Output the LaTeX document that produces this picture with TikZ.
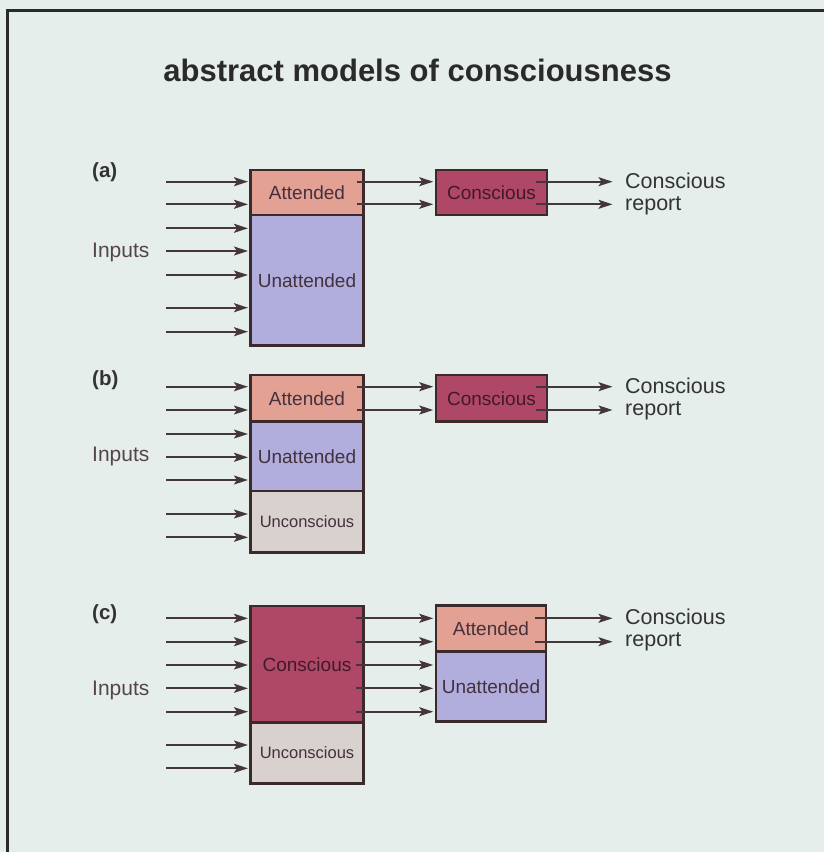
\documentclass[tikz,border=0pt]{standalone}
\usepackage{fontspec}
\setmainfont{Liberation Sans}
\usetikzlibrary{arrows.meta,calc}
\definecolor{bg}{HTML}{E6EEEC}
\definecolor{attc}{HTML}{E2A192}
\definecolor{unattc}{HTML}{B1AEDD}
\definecolor{consc}{HTML}{AF4867}
\definecolor{uncc}{HTML}{D9D1CD}
\definecolor{edgec}{HTML}{3A2A2C}
\definecolor{arrc}{HTML}{45363A}
\definecolor{boxtxt}{HTML}{44303E}
\definecolor{contxt}{HTML}{42192A}
\definecolor{lbltxt}{HTML}{54444C}
\definecolor{txt}{HTML}{333333}
\definecolor{framec}{HTML}{2A2A2A}
\begin{document}
\begin{tikzpicture}[x=1pt,y=-1pt,
  part/.style={draw=edgec, line width=2.5pt, minimum width=112.6pt, inner sep=0pt,
    text=boxtxt, font=\fontsize{19}{21}\selectfont},
  rpart/.style={part, minimum width=111pt},
  arr/.style={draw=arrc, line width=1.8pt, shorten >=1.5pt,
    -{Stealth[length=14pt,width=9pt,inset=3pt]}},
  lbl/.style={anchor=base west, inner sep=0pt, text=txt, font=\fontsize{21.5}{24}\selectfont},
  inlbl/.style={anchor=base west, inner sep=0pt, text=lbltxt, font=\fontsize{21}{24}\selectfont},
  tag/.style={anchor=base west, inner sep=0pt, text=txt, font=\bfseries\fontsize{20.5}{24}\selectfont}]
\useasboundingbox (0,0) rectangle (824,852);
\fill[bg] (0,0) rectangle (824,852);
\draw[framec, line width=3pt] (7,852) -- (7,10) -- (824,10);

\node[anchor=base, inner sep=0pt, text=framec, font=\bfseries\fontsize{31}{34}\selectfont] (title) at (417.5,81) {abstract models of consciousness};

% ---------- (a)
\node[tag] (taga) at (92,177) {(a)};
\node[inlbl] (inpa) at (92,257) {Inputs};
\node[part, fill=attc, minimum height=45pt] (aAtt) at (307,192.5) {Attended};
\node[part, fill=unattc, minimum height=130.7pt] (aUna) at (307,280.35) {Unattended};
\node[rpart, fill=consc, minimum height=45pt, text=contxt] (aCon) at (491.5,192.5) {Conscious};
\foreach \y [count=\i] in {181.7,204.3,228.3,251,275,307.7,331.7} {
  \coordinate (ina\i) at (166,\y);
  \draw[arr] (ina\i) -- (aUna.west |- ina\i);
}
\foreach \y [count=\i] in {181.7,204.3} {
  \coordinate (ya\i) at (0,\y);
  \coordinate (ra\i) at (614,\y);
  \draw[arr] ([xshift=-8pt]aAtt.east |- ya\i) -- (aCon.west |- ya\i);
  \draw[arr] ([xshift=-12pt]aCon.east |- ya\i) -- (ra\i);
}
\node[lbl] (repa1) at (625,188.3) {Conscious};
\node[lbl] (repa2) at (625,210) {report};

% ---------- (b)
\node[tag] (tagb) at (92,385) {(b)};
\node[inlbl] (inpb) at (92,461) {Inputs};
\node[part, fill=attc, minimum height=46.7pt] (bAtt) at (307,398.35) {Attended};
\node[part, fill=unattc, minimum height=69.3pt] (bUna) at (307,456.35) {Unattended};
\node[part, fill=uncc, minimum height=61.3pt, font=\fontsize{16.5}{18}\selectfont] (bUnc) at (307,521.65) {Unconscious};
\node[rpart, fill=consc, minimum height=46.7pt, text=contxt] (bCon) at (491.5,398.35) {Conscious};
\foreach \y [count=\i] in {386.7,410,434,457.3,480,514,537.3} {
  \coordinate (inb\i) at (166,\y);
  \draw[arr] (inb\i) -- (bUna.west |- inb\i);
}
\foreach \y [count=\i] in {386.7,410} {
  \coordinate (yb\i) at (0,\y);
  \coordinate (rb\i) at (614,\y);
  \draw[arr] ([xshift=-8pt]bAtt.east |- yb\i) -- (bCon.west |- yb\i);
  \draw[arr] ([xshift=-12pt]bCon.east |- yb\i) -- (rb\i);
}
\node[lbl] (repb1) at (625,393.5) {Conscious};
\node[lbl] (repb2) at (625,415.5) {report};

% ---------- (c)
\node[tag] (tagc) at (92,619) {(c)};
\node[inlbl] (inpc) at (92,695) {Inputs};
\node[part, fill=consc, minimum height=116.7pt, text=contxt] (cCon) at (307,664.35) {Conscious};
\node[part, fill=uncc, minimum height=60.6pt, font=\fontsize{16.5}{18}\selectfont] (cUnc) at (307,753) {Unconscious};
\node[rpart, minimum width=110pt, fill=attc, minimum height=46pt] (cAtt) at (491,628.7) {Attended};
\node[rpart, minimum width=110pt, fill=unattc, minimum height=70pt] (cUna) at (491,686.7) {Unattended};
\foreach \y [count=\i] in {618.3,641.7,665,688.3,711.7,745,768.3} {
  \coordinate (inc\i) at (166,\y);
  \draw[arr] (inc\i) -- (cCon.west |- inc\i);
}
\foreach \y [count=\i] in {618.3,641.7,665,688.3,711.7} {
  \coordinate (yc\i) at (0,\y);
  \draw[arr] ([xshift=-9pt]cCon.east |- yc\i) -- (cUna.west |- yc\i);
}
\foreach \y [count=\i] in {618.3,641.7} {
  \coordinate (yd\i) at (0,\y);
  \coordinate (rc\i) at (614,\y);
  \draw[arr] ([xshift=-12pt]cAtt.east |- yd\i) -- (rc\i);
}
\node[lbl] (repc1) at (625,624.3) {Conscious};
\node[lbl] (repc2) at (625,646.5) {report};
\end{tikzpicture}
\end{document}
